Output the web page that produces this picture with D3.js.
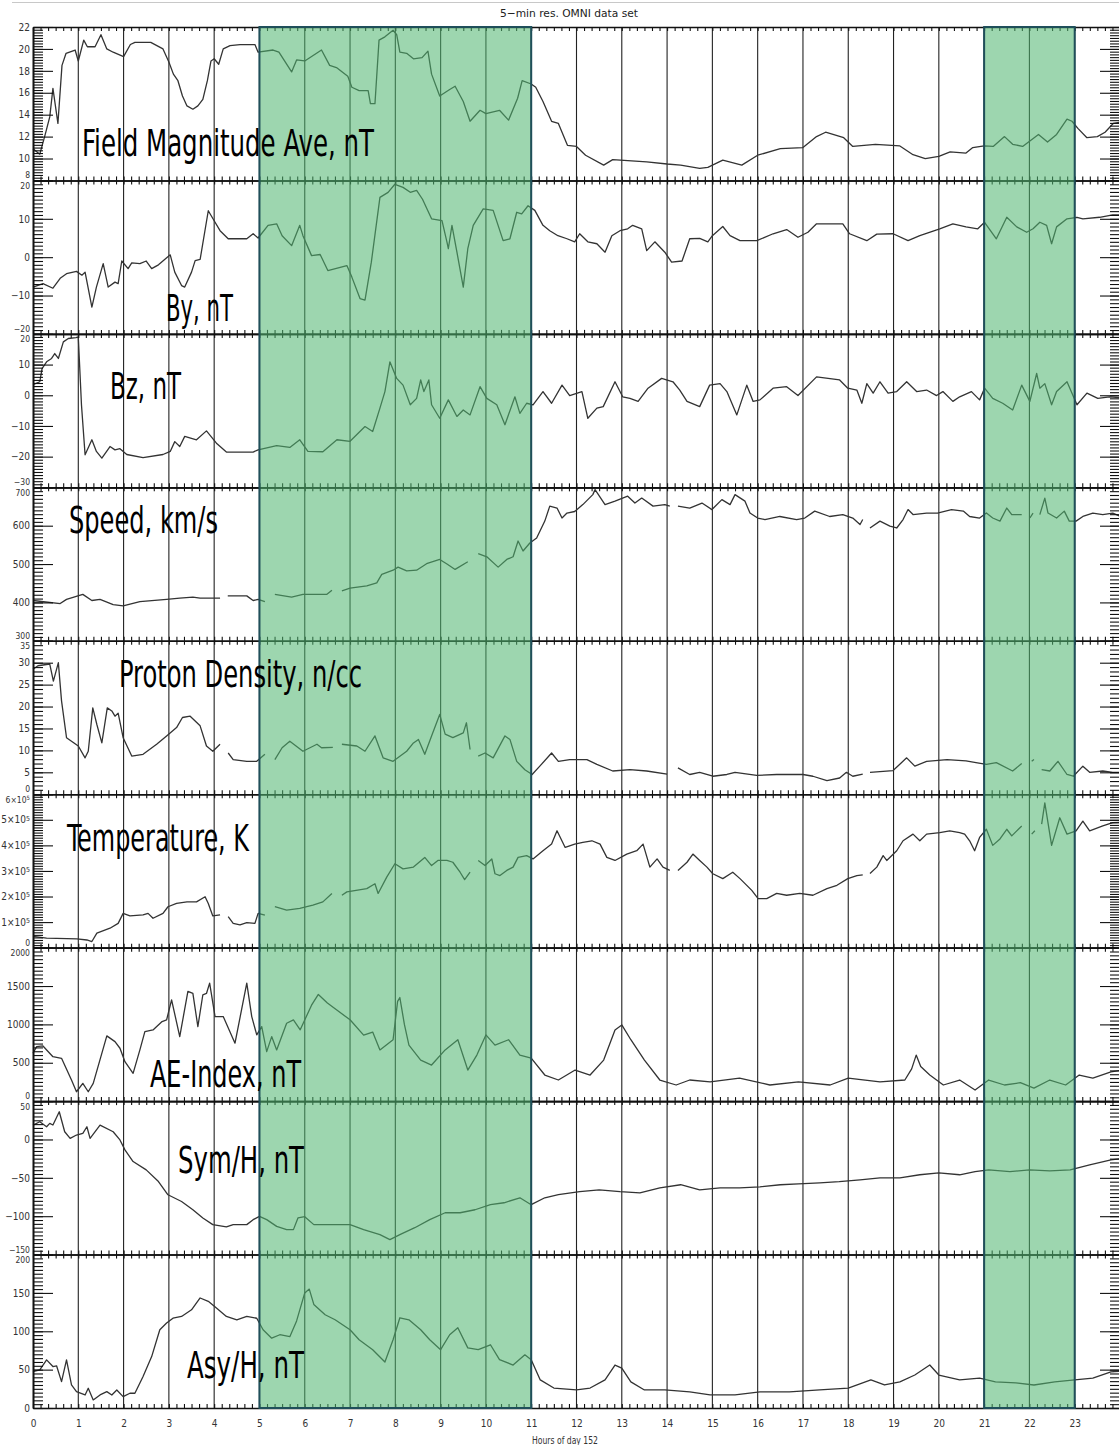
<!DOCTYPE html>
<html>
<head>
<meta charset="utf-8">
<script src="https://cdn.jsdelivr.net/npm/d3@7"></script>
<style>
  body { margin: 0; background: #fff; }
  svg { display: block; }
</style>
</head>
<body>
<div id="chart"></div>
<script>
// ---- data: [hour, value], null = data gap ----
let fieldData = [[0,10.9],[0.15,10.4],[0.27,12.2],[0.37,13.8],[0.44,16.4],[0.55,13.2],[0.64,18.5],[0.73,19.6],[0.93,19.9],[1.0,18.9],[1.12,20.8],[1.2,20.2],[1.37,20.2],[1.5,21.3],[1.63,20.0],[1.77,19.7],[2.0,19.3],[2.15,20.4],[2.25,20.6],[2.6,20.6],[2.87,20.0],[3.0,18.8],[3.1,17.7],[3.2,17.1],[3.3,15.7],[3.4,14.8],[3.53,14.5],[3.64,14.8],[3.75,15.4],[3.85,17.1],[3.93,18.9],[4.0,19.1],[4.1,18.6],[4.2,20.0],[4.35,20.3],[4.57,20.4],[4.9,20.4],[4.97,19.7],[5.3,19.9],[5.43,19.7],[5.71,17.9],[5.82,19.0],[6.0,18.9],[6.37,19.9],[6.55,18.5],[6.7,18.3],[6.95,17.5],[7.04,16.5],[7.2,16.2],[7.4,16.2],[7.45,15.0],[7.55,15.0],[7.64,20.8],[7.77,21.1],[7.95,21.7],[8.03,21.3],[8.1,19.7],[8.25,19.6],[8.4,19.1],[8.59,19.2],[8.72,19.8],[8.8,17.7],[8.98,15.7],[9.2,16.3],[9.32,16.6],[9.5,15.2],[9.65,13.4],[9.87,14.4],[10.0,14.1],[10.3,14.4],[10.5,13.5],[10.7,15.5],[10.8,17.1],[11.0,16.8],[11.1,16.5],[11.26,15.2],[11.45,13.4],[11.6,13.2],[11.8,11.2],[12.0,11.1],[12.2,10.3],[12.6,9.4],[12.8,9.9],[13.55,9.7],[14.0,9.5],[14.3,9.4],[14.72,9.1],[14.9,9.2],[15.23,9.85],[15.65,9.4],[16.0,10.3],[16.5,10.9],[17.0,11.0],[17.3,12.0],[17.5,12.4],[17.9,11.9],[18.1,11.1],[18.6,11.3],[19.14,11.15],[19.43,10.35],[19.7,10.0],[20.0,10.2],[20.25,10.6],[20.6,10.5],[20.75,11.0],[21.0,11.15],[21.2,11.1],[21.45,12.0],[21.63,11.3],[21.85,11.1],[22.2,12.2],[22.4,11.5],[22.6,12.2],[22.83,13.6],[22.94,13.4],[23.07,12.75],[23.27,11.9],[23.5,12.0],[23.67,12.4],[23.85,13.2],[24,13.3]];

let byData = [[0,-7.8],[0.22,-6.9],[0.44,-8.1],[0.6,-5.5],[0.74,-4.3],[0.96,-3.7],[1.08,-4.7],[1.15,-3.9],[1.3,-13.0],[1.4,-7.8],[1.55,-1.7],[1.66,-7.8],[1.81,-6.5],[1.88,-6.9],[1.96,-1.0],[2.1,-3.0],[2.18,-1.5],[2.36,-1.7],[2.5,-1.0],[2.62,-3.0],[2.77,-2.0],[3.03,0.6],[3.13,-3.9],[3.28,-7.4],[3.35,-7.8],[3.5,-3.9],[3.58,-0.9],[3.69,-0.6],[3.87,12.1],[4.0,9.5],[4.13,6.9],[4.31,4.8],[4.72,4.8],[4.86,6.1],[4.97,5.0],[5.19,8.3],[5.38,8.7],[5.5,5.6],[5.71,3.0],[5.89,8.3],[5.96,5.6],[6.15,0.4],[6.34,0.7],[6.51,-3.5],[6.93,-2.2],[7.04,-5.2],[7.22,-10.8],[7.33,-11.2],[7.47,-1.3],[7.66,15.6],[7.84,16.9],[7.99,19.0],[8.17,18.2],[8.33,16.9],[8.47,17.4],[8.6,15.1],[8.8,10.0],[9.03,9.5],[9.14,3.9],[9.17,2.2],[9.25,8.3],[9.36,1.3],[9.5,-7.8],[9.6,2.2],[9.72,8.3],[9.94,12.6],[10.16,12.2],[10.38,4.3],[10.53,4.8],[10.68,11.7],[10.79,11.3],[10.93,13.4],[11.08,12.2],[11.26,8.3],[11.41,6.9],[11.59,5.6],[11.79,4.8],[11.96,4.0],[12.07,6.1],[12.25,4.0],[12.45,3.5],[12.63,1.3],[12.78,5.6],[12.96,6.9],[13.13,7.4],[13.24,8.3],[13.44,7.4],[13.55,1.7],[13.73,4.0],[13.95,1.3],[14.1,-1.3],[14.33,-1.0],[14.5,4.8],[14.72,4.9],[14.9,4.0],[15.0,5.6],[15.23,8.0],[15.39,5.6],[15.61,4.3],[15.98,4.3],[16.34,6.1],[16.64,7.2],[16.89,5.2],[17.11,6.5],[17.3,8.7],[17.88,8.7],[18.03,6.1],[18.41,4.3],[18.63,6.0],[18.99,6.1],[19.32,4.3],[19.58,5.6],[20.02,7.4],[20.31,8.7],[20.6,7.9],[20.86,7.4],[21.01,9.1],[21.27,4.8],[21.5,10.4],[21.72,7.9],[21.94,6.5],[22.08,7.4],[22.23,9.1],[22.38,8.3],[22.49,3.5],[22.6,7.9],[22.83,10.0],[23.05,10.4],[23.18,10.0],[23.55,10.4],[23.84,11.0],[24,11.0]];

let bzData = [[0,3.5],[0.15,4.4],[0.2,8.7],[0.3,10.9],[0.41,12.0],[0.48,13.6],[0.56,12.0],[0.67,17.4],[0.78,18.5],[0.95,18.8],[1.0,19.0],[1.07,-3.1],[1.15,-19.4],[1.3,-14.5],[1.4,-18.3],[1.52,-20.5],[1.7,-16.7],[1.81,-17.8],[1.92,-17.4],[2.07,-19.3],[2.43,-20.3],[2.87,-19.3],[3.03,-18.3],[3.13,-15.1],[3.24,-16.7],[3.35,-13.4],[3.61,-14.5],[3.83,-11.6],[4.05,-15.6],[4.27,-18.5],[4.86,-18.5],[4.97,-17.8],[5.38,-16.4],[5.67,-17.0],[5.89,-14.5],[6.07,-18.3],[6.4,-18.4],[6.71,-14.5],[7.0,-15.0],[7.33,-10.2],[7.5,-11.8],[7.66,-4.2],[7.77,1.2],[7.88,10.9],[8.03,5.5],[8.17,3.3],[8.33,-3.1],[8.47,-1.0],[8.56,5.0],[8.63,1.2],[8.74,5.0],[8.8,-3.1],[8.98,-7.5],[9.17,-1.5],[9.36,-6.9],[9.5,-4.8],[9.65,-6.4],[9.87,2.8],[10.02,-1.0],[10.24,-3.1],[10.42,-9.6],[10.64,-0.5],[10.75,-5.9],[10.9,-2.6],[11.04,-3.1],[11.26,1.2],[11.45,-2.6],[11.68,3.3],[11.85,-0.1],[12.12,1.2],[12.25,-7.5],[12.45,-4.2],[12.59,-3.7],[12.85,4.4],[13.02,-0.5],[13.18,-1.0],[13.36,-2.0],[13.58,2.3],[13.88,5.5],[14.13,4.4],[14.28,1.7],[14.44,-2.0],[14.72,-3.7],[14.94,3.3],[15.17,3.8],[15.32,1.2],[15.54,-6.4],[15.76,3.3],[15.9,-2.0],[16.05,-1.5],[16.34,2.3],[16.64,2.8],[16.89,-0.1],[17.3,6.0],[17.81,5.0],[17.99,2.3],[18.19,1.7],[18.3,-2.6],[18.41,3.8],[18.55,0.7],[18.7,4.4],[18.88,0.7],[19.07,1.2],[19.29,4.4],[19.51,1.2],[19.73,1.7],[19.95,-0.1],[20.09,1.2],[20.31,-2.0],[20.46,-0.5],[20.72,1.2],[20.9,-1.5],[21.01,2.3],[21.19,-1.0],[21.41,-2.6],[21.63,-4.8],[21.83,3.3],[22.01,-2.0],[22.16,7.1],[22.23,2.3],[22.34,3.8],[22.49,-3.1],[22.6,1.2],[22.83,4.4],[23.05,-3.1],[23.27,0.7],[23.51,-1.0],[23.77,-0.5],[24,-0.8]];

let speedData = [[0,405],[0.6,397],[0.74,408],[1.1,421],[1.3,405],[1.48,408],[1.77,394],[1.99,391],[2.36,402],[2.95,408],[3.24,411],[3.53,414],[3.69,411],[4.13,411],[4.2,null],[4.3,417],[4.72,417],[4.86,405],[4.97,408],[5.12,402],[5.2,null],[5.34,421],[5.71,414],[5.96,421],[6.49,421],[6.6,432],[6.7,null],[6.82,430],[7.0,437],[7.37,443],[7.59,451],[7.7,473],[7.95,484],[8.06,492],[8.25,482],[8.47,484],[8.69,501],[8.98,512],[9.14,500],[9.32,486],[9.6,506],[9.7,null],[9.83,527],[10.02,519],[10.27,492],[10.46,512],[10.6,519],[10.71,560],[10.82,534],[10.97,555],[11.12,568],[11.3,612],[11.41,651],[11.57,646],[11.68,620],[11.79,633],[11.96,637],[12.14,655],[12.36,681],[12.41,694],[12.63,655],[12.85,664],[13.13,677],[13.29,659],[13.44,672],[13.69,651],[13.95,655],[14.06,651],[14.15,null],[14.24,651],[14.5,646],[14.77,659],[14.99,642],[15.21,668],[15.39,655],[15.5,681],[15.72,664],[15.83,633],[16.0,620],[16.16,616],[16.49,624],[16.86,616],[17.04,620],[17.26,638],[17.59,624],[17.88,629],[18.1,620],[18.26,603],[18.32,616],[18.4,null],[18.48,594],[18.7,612],[18.92,599],[19.07,594],[19.21,616],[19.32,642],[19.43,629],[19.73,633],[19.97,633],[20.28,642],[20.54,638],[20.68,624],[20.9,620],[21.05,633],[21.19,620],[21.35,612],[21.5,646],[21.61,629],[21.83,629],[21.9,null],[22.01,620],[22.08,633],[22.15,null],[22.23,629],[22.34,672],[22.41,633],[22.6,620],[22.77,638],[22.88,612],[23.03,612],[23.18,624],[23.4,633],[23.62,629],[23.84,633],[24,625]];

let densityData = [[0,28.5],[0.11,29.3],[0.37,29.7],[0.45,25.8],[0.56,30.0],[0.63,21.3],[0.74,12.9],[0.85,12.1],[1.0,11.0],[1.15,8.3],[1.22,9.8],[1.32,19.7],[1.41,15.9],[1.52,11.7],[1.64,19.7],[1.74,19.0],[1.81,17.8],[1.88,18.5],[1.99,12.9],[2.18,8.7],[2.43,9.1],[2.73,11.4],[2.95,13.3],[3.17,15.2],[3.3,17.5],[3.47,17.8],[3.69,15.6],[3.83,11.0],[3.97,9.8],[4.13,11.4],[4.2,null],[4.31,9.4],[4.42,7.9],[4.72,7.5],[4.94,7.5],[5.12,9.1],[5.2,null],[5.34,7.9],[5.5,10.6],[5.67,12.1],[5.96,9.8],[6.27,11.4],[6.37,10.6],[6.62,10.7],[6.7,null],[6.82,11.4],[7.15,11.0],[7.33,9.8],[7.55,13.3],[7.73,8.3],[7.95,7.5],[8.25,9.8],[8.4,11.7],[8.51,12.5],[8.65,9.1],[8.8,13.3],[8.98,18.2],[9.1,13.7],[9.27,12.9],[9.5,14.0],[9.57,16.3],[9.65,10.2],[9.75,null],[9.83,8.7],[9.98,9.4],[10.16,8.3],[10.42,13.3],[10.53,12.5],[10.68,7.5],[10.86,5.6],[11.02,4.5],[11.19,6.4],[11.45,9.4],[11.6,7.5],[11.85,7.9],[12.23,7.9],[12.45,6.8],[12.8,5.3],[13.18,5.6],[13.55,5.3],[14.0,4.6],[14.12,null],[14.24,6.0],[14.5,4.5],[14.72,5.0],[15.01,4.1],[15.32,4.5],[15.5,5.0],[15.98,4.3],[16.42,4.5],[17.0,4.5],[17.22,4.1],[17.53,3.1],[17.81,3.7],[17.96,5.0],[18.1,4.1],[18.32,4.6],[18.4,null],[18.48,5.0],[18.99,5.4],[19.29,8.3],[19.47,6.4],[19.73,7.5],[20.18,7.9],[20.6,7.6],[20.82,7.2],[21.05,6.8],[21.27,7.2],[21.63,5.3],[21.83,7.0],[21.95,null],[22.05,7.5],[22.1,7.9],[22.18,null],[22.27,5.6],[22.45,5.3],[22.63,7.5],[22.83,4.5],[22.97,4.1],[23.18,6.4],[23.33,5.0],[23.62,5.3],[23.84,5.0],[24,5.0]];

// temperature in units of 10^5 K
let tempData = [[0,0.44],[0.3,0.37],[0.97,0.34],[1.19,0.3],[1.3,0.24],[1.41,0.57],[1.7,0.76],[1.88,0.95],[1.99,1.34],[2.14,1.24],[2.43,1.28],[2.54,1.34],[2.65,1.15],[2.87,1.34],[2.98,1.6],[3.17,1.73],[3.4,1.79],[3.61,1.79],[3.8,1.99],[3.87,1.73],[3.97,1.24],[4.13,1.28],[4.2,null],[4.31,1.21],[4.42,0.95],[4.57,0.89],[4.72,0.98],[4.9,0.95],[4.97,1.34],[5.12,1.27],[5.2,null],[5.34,1.6],[5.6,1.47],[5.89,1.54],[6.18,1.66],[6.4,1.79],[6.6,2.12],[6.7,null],[6.82,2.05],[6.93,2.18],[7.37,2.31],[7.55,2.5],[7.62,2.12],[7.81,2.76],[7.99,3.28],[8.17,3.08],[8.4,3.15],[8.65,3.53],[8.8,3.21],[8.94,3.41],[9.14,3.41],[9.27,3.34],[9.43,2.95],[9.53,2.66],[9.65,2.95],[9.75,null],[9.83,3.41],[9.98,3.21],[10.13,3.47],[10.2,2.89],[10.31,2.82],[10.46,3.02],[10.6,3.15],[10.71,3.53],[10.9,3.6],[11.04,3.47],[11.26,3.79],[11.45,4.05],[11.57,4.57],[11.75,3.92],[11.96,4.05],[12.14,4.12],[12.34,4.18],[12.52,4.05],[12.67,3.53],[12.85,3.41],[13.11,3.66],[13.33,3.79],[13.47,4.05],[13.62,3.15],[13.78,3.47],[13.91,3.15],[14.06,3.02],[14.15,null],[14.24,3.02],[14.44,3.34],[14.57,3.66],[14.72,3.41],[14.88,3.15],[15.01,2.89],[15.23,2.7],[15.45,2.95],[15.61,2.7],[15.87,2.24],[16.01,1.92],[16.2,1.92],[16.42,2.12],[16.64,2.05],[16.93,2.12],[17.22,2.05],[17.53,2.31],[17.75,2.44],[17.99,2.7],[18.19,2.82],[18.32,2.85],[18.4,null],[18.48,2.9],[18.63,3.15],[18.77,3.6],[18.85,3.41],[19.07,3.79],[19.21,4.18],[19.43,4.44],[19.58,4.18],[19.73,4.44],[20.02,4.5],[20.24,4.57],[20.46,4.5],[20.57,4.44],[20.68,4.18],[20.79,3.79],[20.9,4.31],[21.05,4.63],[21.19,4.0],[21.35,4.25],[21.5,4.63],[21.61,4.37],[21.83,4.76],[21.95,null],[22.05,4.44],[22.12,4.57],[22.2,null],[22.27,4.83],[22.34,5.66],[22.49,4.0],[22.67,5.08],[22.83,4.44],[23.03,4.57],[23.18,4.95],[23.33,4.57],[23.62,4.76],[23.84,4.89],[24,4.9]];

let aeData = [[0,623],[0.08,710],[0.22,719],[0.44,579],[0.63,558],[0.85,275],[0.96,122],[1.1,231],[1.22,122],[1.33,231],[1.63,850],[1.81,775],[1.92,689],[2.03,514],[2.21,362],[2.36,667],[2.47,906],[2.65,928],[2.85,1037],[2.95,1059],[3.06,1320],[3.24,841],[3.42,1429],[3.53,1403],[3.64,971],[3.75,1386],[3.83,1403],[3.9,1538],[4.02,1102],[4.2,1102],[4.46,755],[4.72,1538],[4.83,1102],[4.94,863],[5.05,971],[5.16,645],[5.27,841],[5.38,667],[5.6,1015],[5.75,1059],[5.9,930],[6.15,1250],[6.3,1390],[6.5,1280],[6.7,1190],[7.0,1060],[7.3,860],[7.5,900],[7.66,667],[7.95,800],[8.05,1300],[8.1,1350],[8.2,1000],[8.3,730],[8.56,535],[8.8,470],[9.1,667],[9.38,800],[9.6,405],[9.8,600],[10.0,863],[10.2,730],[10.5,800],[10.75,600],[11.0,560],[11.3,340],[11.6,275],[11.97,405],[12.3,340],[12.6,535],[12.85,928],[13.0,993],[13.2,800],[13.5,535],[13.84,275],[14.2,210],[14.5,275],[14.95,250],[15.6,300],[16.27,210],[16.9,250],[17.6,210],[18.0,300],[18.7,250],[19.25,275],[19.4,420],[19.5,600],[19.6,450],[19.8,340],[20.1,210],[20.46,275],[20.8,145],[21.1,275],[21.45,210],[21.8,240],[22.1,170],[22.45,275],[22.8,210],[23.1,340],[23.4,300],[23.8,380],[24,400]];

let symData = [[0,18.8],[0.15,23.1],[0.3,16.6],[0.37,21],[0.44,18.8],[0.58,36.1],[0.7,10.1],[0.82,1.5],[0.96,5.8],[1.1,8],[1.19,16.6],[1.26,1.5],[1.48,18.8],[1.77,10.1],[1.92,-0.6],[2.03,-13.6],[2.21,-28.8],[2.5,-39.6],[2.77,-54.8],[2.98,-72.1],[3.28,-80.8],[3.53,-91.6],[3.75,-102.3],[3.97,-111],[4.27,-114],[4.42,-111],[4.72,-111],[4.86,-104.5],[5.0,-100.2],[5.16,-104.5],[5.38,-113.3],[5.6,-117.5],[5.75,-117.5],[5.85,-102.3],[6.0,-100.6],[6.2,-111],[6.55,-111],[7.0,-111],[7.3,-117.5],[7.66,-124],[7.88,-130.5],[8.1,-124],[8.43,-115],[8.76,-104.5],[9.1,-95.5],[9.43,-95.5],[9.76,-91.6],[10.1,-85],[10.4,-82.5],[10.75,-76],[11.0,-85],[11.3,-76],[11.6,-72],[12.07,-68],[12.5,-65.6],[12.96,-68],[13.4,-69.5],[13.84,-63],[14.3,-59],[14.72,-65.6],[15.17,-63],[15.6,-63],[16.05,-61.7],[16.5,-59],[16.9,-57.8],[17.37,-56.5],[17.8,-55],[18.26,-52.6],[18.7,-50],[19.14,-50],[19.58,-46],[20.0,-43.5],[20.46,-46],[20.8,-42],[21.1,-39.6],[21.57,-42],[22.0,-39.6],[22.45,-41],[22.9,-39.6],[23.33,-33],[23.8,-26.6],[24,-25]];

let asyData = [[0,47.5],[0.15,49.7],[0.3,62.7],[0.44,54],[0.52,55],[0.63,34.4],[0.74,62.7],[0.85,30],[0.96,21.3],[1.15,17],[1.22,25.7],[1.33,10.5],[1.48,17],[1.63,21.3],[1.74,17],[1.85,23.5],[1.99,14.8],[2.14,19.2],[2.25,19.2],[2.43,41],[2.62,67],[2.8,102],[2.95,110.7],[3.09,117],[3.28,119.3],[3.5,128],[3.69,143.4],[3.87,139],[4.05,130.3],[4.27,119.3],[4.5,115],[4.72,119.3],[4.94,117],[5.08,102],[5.27,91],[5.45,95.5],[5.67,93],[5.82,113.5],[6.0,150],[6.1,155],[6.2,135],[6.45,121.6],[6.67,115],[7.0,102],[7.2,89],[7.5,76],[7.77,60],[7.95,89],[8.1,117.6],[8.3,115],[8.56,102],[8.76,89],[9.0,76],[9.2,95.5],[9.38,104.6],[9.6,78.4],[9.83,76],[10.1,82.4],[10.3,63],[10.6,56],[10.86,69.3],[11.0,63],[11.2,36.6],[11.5,26],[12.0,23.5],[12.3,26],[12.63,36.6],[12.85,56],[13.0,52],[13.2,34],[13.5,23.5],[13.95,23.5],[14.5,21],[14.95,17],[15.5,17],[16.05,21],[16.7,21],[17.37,23.5],[18.0,26],[18.5,36.6],[18.8,30],[19.14,34],[19.47,43],[19.8,56],[20.0,43],[20.46,36.6],[20.9,39],[21.25,34],[21.7,32.7],[22.1,30],[22.56,34],[23.0,36.6],[23.4,39],[23.8,47],[24,48]];

// ---- panel setup ----
let panelLabels = ["Field Magnitude Ave, nT", "By, nT", "Bz, nT", "Speed, km/s", "Proton Density, n/cc",
                   "Temperature, K", "AE-Index, nT", "Sym/H, nT", "Asy/H, nT"];
let yMins = [8, -20, -30, 300, 0, 0, 0, -150, 0];
let yMaxs = [22, 20, 20, 700, 35, 6, 2000, 50, 200];
let majorSteps = [2, 10, 10, 100, 5, 1, 500, 50, 50];
let minorSteps = [0.25, 1, 1, 10, 1, 0.1, 50, 5, 5];
let hourLabels = d3.range(0, 24);
let shadeStart = [5, 21];
let shadeEnd = [11, 23];

let allSeries = [fieldData, byData, bzData, speedData, densityData, tempData, aeData, symData, asyData];

// ---- layout ----
let svgWidth = 1119;
let svgHeight = 1445;
let plotLeft = 33, plotRight = 1120, plotTop = 27, plotBottom = 1408;
let panelHeight = (plotBottom - plotTop) / panelLabels.length;

// where the big panel labels sit (left x, baseline y, width)
let labelX = [82, 166, 110, 69, 119, 67, 150, 178, 187];
let labelY = [156, 321, 399, 533, 687, 851, 1087, 1173, 1378];
let labelW = [292, 67, 71, 149, 243, 182, 151, 126, 117];

let tickFont = "'DejaVu Sans Condensed', 'Liberation Sans Narrow', sans-serif";
let bigFont = "'Liberation Sans Narrow', 'DejaVu Sans Condensed', sans-serif";

let svg = d3.select("#chart")
  .append("svg")
  .attr("width", svgWidth)
  .attr("height", svgHeight);

svg.append("rect").attr("width", svgWidth).attr("height", svgHeight).attr("fill", "#fff");

// thin grey rule at the very top
svg.append("line")
  .attr("x1", 12).attr("x2", svgWidth)
  .attr("y1", 2.5).attr("y2", 2.5)
  .attr("stroke", "#c8c8c8").attr("stroke-width", 1.2);

svg.append("text")
  .attr("x", 500).attr("y", 17)
  .attr("font-family", tickFont)
  .attr("font-size", 11)
  .attr("textLength", 138)
  .attr("lengthAdjust", "spacingAndGlyphs")
  .attr("fill", "#222")
  .text("5\u2212min res. OMNI data set");

let xScale = d3.scaleLinear().domain([0, 24]).range([plotLeft, plotRight]);
let minorHours = d3.range(0, 24 * 6 + 1).map(k => k / 6);

// vertical hour lines
svg.append("g")
  .selectAll("line")
  .data(d3.range(1, 24))
  .enter()
  .append("line")
  .attr("x1", d => xScale(d)).attr("x2", d => xScale(d))
  .attr("y1", plotTop).attr("y2", plotBottom)
  .attr("stroke", "#222")
  .attr("stroke-width", 1.1);

function styleAxis(g) {
  g.selectAll("path.domain").attr("stroke", "#111").attr("stroke-width", 1.6);
  g.selectAll(".tick line").attr("stroke", "#111").attr("stroke-width", 1.1);
  g.selectAll("text")
    .attr("font-family", tickFont)
    .attr("font-size", 10)
    .attr("fill", "#333");
}

let curveGroup = svg.append("g");

panelLabels.forEach(function(name, i) {
  let top = plotTop + i * panelHeight;
  let bottom = top + panelHeight;

  let yScale = d3.scaleLinear()
    .domain([yMins[i], yMaxs[i]])
    .range([bottom, top]);

  let minorVals = d3.range(yMins[i], yMaxs[i] + minorSteps[i] / 2, minorSteps[i]);
  let majorVals = d3.range(yMins[i], yMaxs[i] + majorSteps[i] / 2, majorSteps[i]);

  // left axis: dense minor ticks, then labelled major ticks (ticks point inward)
  svg.append("g")
    .attr("transform", `translate(${plotLeft},0)`)
    .call(d3.axisLeft(yScale).tickValues(minorVals).tickSizeInner(-10).tickSizeOuter(0).tickFormat(""))
    .call(styleAxis);

  let leftMajor = svg.append("g")
    .attr("transform", `translate(${plotLeft},0)`)
    .call(d3.axisLeft(yScale).tickValues(majorVals).tickSizeInner(-20).tickSizeOuter(0).tickPadding(3)
      .tickFormat(d => d3.format("~g")(d)))
    .call(styleAxis);

  // end labels of neighbouring panels meet at the shared border:
  // draw them a bit smaller and tuck each one inside its own panel
  let isTop = d => d === yMaxs[i] && i > 0;
  let isBottom = d => d === yMins[i] && i < panelLabels.length - 1;
  leftMajor.selectAll(".tick text")
    .attr("font-size", d => (isTop(d) || isBottom(d)) ? 8.5 : 10)
    .attr("dy", d => isTop(d) ? "0.95em" : (isBottom(d) ? "-0.3em" : "0.32em"));

  if (name === "Temperature, K") {
    leftMajor.selectAll(".tick text").each(function(d) {
      let t = d3.select(this);
      if (d === 0) { t.text("0"); return; }
      t.text("");
      t.append("tspan").text(d + "\u00d710");
      t.append("tspan").attr("dy", "-0.4em").attr("font-size", "0.7em").text("5");
    });
  }

  // right axis mirror
  svg.append("g")
    .attr("transform", `translate(${plotRight},0)`)
    .call(d3.axisRight(yScale).tickValues(minorVals).tickSizeInner(-10).tickSizeOuter(0).tickFormat(""))
    .call(styleAxis);
  svg.append("g")
    .attr("transform", `translate(${plotRight},0)`)
    .call(d3.axisRight(yScale).tickValues(majorVals).tickSizeInner(-20).tickSizeOuter(0).tickFormat(""))
    .call(styleAxis);

  // top and bottom frame with 10-minute ticks
  svg.append("g")
    .attr("transform", `translate(0,${top})`)
    .call(d3.axisBottom(xScale).tickValues(minorHours).tickSizeInner(4).tickSizeOuter(0).tickFormat(""))
    .call(styleAxis);
  svg.append("g")
    .attr("transform", `translate(0,${bottom})`)
    .call(d3.axisTop(xScale).tickValues(minorHours).tickSizeInner(4).tickSizeOuter(0).tickFormat(""))
    .call(styleAxis);

  let line = d3.line()
    .defined(d => d[1] !== null)
    .x(d => xScale(d[0]))
    .y(d => yScale(d[1]));

  curveGroup.append("path")
    .datum(allSeries[i])
    .attr("d", line)
    .attr("fill", "none")
    .attr("stroke", "#333")
    .attr("stroke-width", 1.3)
    .attr("stroke-linejoin", "round");
});

// hour labels under the last panel
svg.append("g")
  .attr("transform", `translate(0,${plotBottom})`)
  .call(d3.axisBottom(xScale).tickValues(hourLabels).tickSize(0).tickPadding(12).tickFormat(d3.format("d")))
  .call(styleAxis)
  .call(g => g.select("path.domain").remove());

svg.append("text")
  .attr("x", 532).attr("y", 1444)
  .attr("font-family", tickFont)
  .attr("font-size", 10)
  .attr("textLength", 66)
  .attr("lengthAdjust", "spacingAndGlyphs")
  .attr("fill", "#333")
  .text("Hours of day 152");

// green highlight windows
svg.append("g")
  .selectAll("rect")
  .data(shadeStart)
  .enter()
  .append("rect")
  .attr("x", d => xScale(d))
  .attr("y", plotTop)
  .attr("width", (d, i) => xScale(shadeEnd[i]) - xScale(d))
  .attr("height", plotBottom - plotTop)
  .attr("fill", "rgb(80,182,112)")
  .attr("fill-opacity", 0.56)
  .attr("stroke", "#1f4f5a")
  .attr("stroke-width", 2);

// big panel labels
svg.append("g")
  .selectAll("text")
  .data(panelLabels)
  .enter()
  .append("text")
  .attr("x", (d, i) => labelX[i])
  .attr("y", (d, i) => labelY[i])
  .attr("textLength", (d, i) => labelW[i])
  .attr("lengthAdjust", "spacingAndGlyphs")
  .attr("font-family", bigFont)
  .attr("font-size", 38)
  .attr("fill", "#000")
  .text(d => d);
</script>
</body>
</html>
